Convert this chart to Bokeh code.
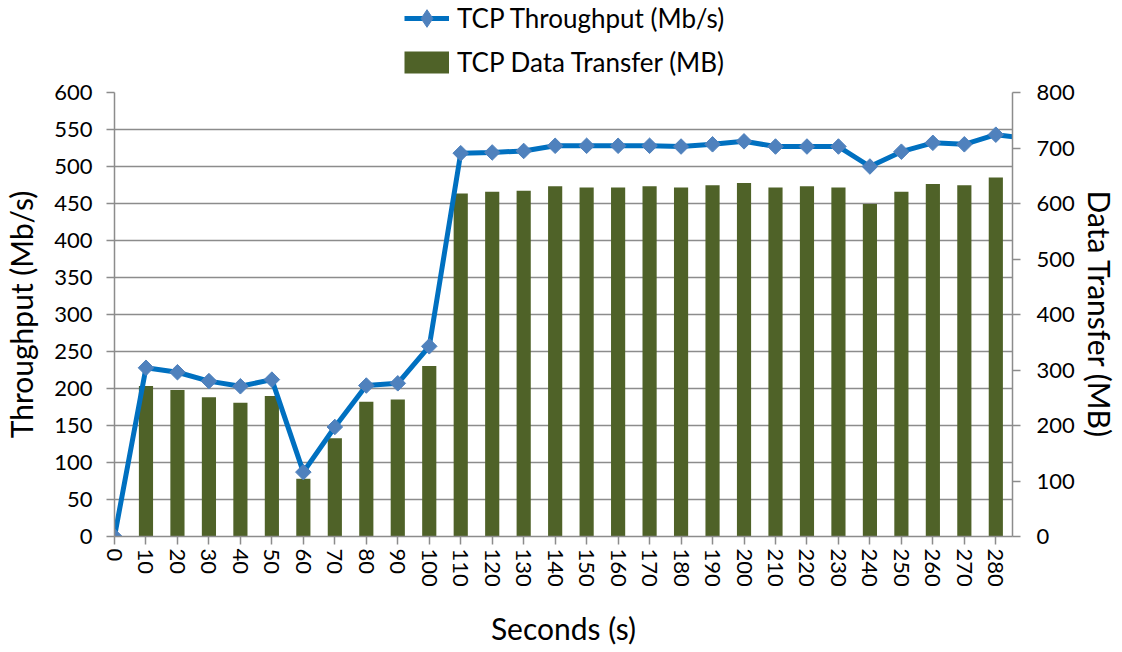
from bokeh.plotting import figure
from bokeh.layouts import column
from bokeh.models import (Range1d, LinearAxis, FixedTicker, Legend, LegendItem,
                          ColumnDataSource)
from bokeh.embed import file_html
from bokeh.resources import INLINE

# ---- data ----
seconds = [0, 10, 20, 30, 40, 50, 60, 70, 80, 90, 100, 110, 120, 130, 140, 150,
           160, 170, 180, 190, 200, 210, 220, 230, 240, 250, 260, 270, 280, 290]
throughput = [0, 228, 222, 210, 203, 212, 87, 148, 204, 207, 257, 518, 519, 521,
              528, 528, 528, 528, 527, 530, 534, 527, 527, 527, 500, 520, 532,
              530, 543, 538]
bar_seconds = [10, 20, 30, 40, 50, 60, 70, 80, 90, 100, 110, 120, 130, 140, 150,
               160, 170, 180, 190, 200, 210, 220, 230, 240, 250, 260, 270, 280]
data_transfer = [271, 264, 251, 241, 253, 104, 177, 243, 247, 307, 618, 621, 623,
                 631, 629, 629, 631, 629, 633, 637, 629, 631, 629, 599, 621, 635,
                 633, 647]
x_ticks = list(range(0, 290, 10))
left_ticks = list(range(0, 601, 50))
right_ticks = list(range(0, 801, 100))
series_names = ["TCP Throughput (Mb/s)", "TCP Data Transfer (MB)"]

FONT = "Lato"
GRID = "#8c8c8c"
LINE_BLUE = "#0070C0"
MARKER_BLUE = "#4F81BD"
BAR_GREEN = "#4F6228"

W = 1120
LEG_H = 78
MAIN_H = 572

# ---- legend strip (its frame is aligned with the main chart's frame) ----
lf = figure(width=W, height=LEG_H, output_backend="svg", toolbar_location=None,
            x_range=Range1d(0, 1), y_range=Range1d(0, 1),
            x_axis_type=None, y_axis_type=None,
            min_border_left=0, min_border_right=0, min_border_top=0,
            min_border_bottom=0)
lf.outline_line_color = None
lf.grid.visible = False
# legend-only renderers: their points lie outside the visible range
dummy = ColumnDataSource(dict(x=[-5, -4], y=[-5, -4]))
l_line = lf.line(x="x", y="y", source=dummy, line_color=LINE_BLUE, line_width=5)
l_mark = lf.scatter(x="x", y="y", source=dummy, marker="diamond",
                    fill_color=MARKER_BLUE, line_color=MARKER_BLUE)
l_bar = lf.line(x="x", y="y", source=dummy, line_color=BAR_GREEN, line_width=22,
                line_cap="butt")
legend = Legend(items=[LegendItem(label=series_names[0], renderers=[l_line, l_mark]),
                       LegendItem(label=series_names[1], renderers=[l_bar])],
                location=(290, -6), orientation="vertical",
                label_text_font=FONT, label_text_font_size="26px",
                label_text_color="black", label_text_line_height=1.0,
                glyph_width=45, glyph_height=44, label_height=24,
                spacing=0, padding=0, margin=0, border_line_color=None,
                background_fill_alpha=0, label_standoff=8)
lf.add_layout(legend, "center")

# ---- main chart ----
p = figure(width=W, height=MAIN_H, output_backend="svg", toolbar_location=None,
           x_range=Range1d(0, 285.3), y_range=Range1d(0, 600),
           min_border_left=114, min_border_right=104, min_border_top=14,
           min_border_bottom=114)
p.extra_y_ranges = {"right": Range1d(0, 800)}
p.outline_line_color = None
p.background_fill_color = "white"

bar_src = ColumnDataSource(dict(x=bar_seconds, top=data_transfer))
bars = p.vbar(x="x", top="top", width=4.5, source=bar_src, y_range_name="right",
              fill_color=BAR_GREEN, line_color=None)

line_src = ColumnDataSource(dict(x=seconds, y=throughput))
ln = p.line(x="x", y="y", source=line_src, line_color=LINE_BLUE, line_width=5)
mk = p.scatter(x="x", y="y", source=line_src, marker="square", angle=0.785398,
               size=11, fill_color=MARKER_BLUE, line_color=MARKER_BLUE)

p.xaxis.ticker = FixedTicker(ticks=x_ticks)
p.xaxis.major_label_orientation = "vertical"
p.xaxis.axis_label = "Seconds (s)"
p.yaxis.ticker = FixedTicker(ticks=left_ticks)
p.yaxis.axis_label = "Throughput (Mb/s)"

ry = LinearAxis(y_range_name="right", ticker=FixedTicker(ticks=right_ticks),
                axis_label="Data Transfer (MB)")
p.add_layout(ry, "right")

for ax in [p.xaxis[0], p.yaxis[0], ry]:
    ax.axis_line_color = GRID
    ax.axis_line_width = 1.5
    ax.major_tick_line_color = GRID
    ax.major_tick_line_width = 1.5
    ax.major_tick_out = 8
    ax.major_tick_in = 0
    ax.minor_tick_line_color = None
    ax.major_label_text_font = FONT
    ax.major_label_text_font_size = "22px"
    ax.major_label_text_color = "black"
    ax.axis_label_text_font = FONT
    ax.axis_label_text_font_size = "30px"
    ax.axis_label_text_font_style = "normal"
    ax.axis_label_text_color = "black"

p.xaxis.major_label_standoff = 4
p.xaxis.axis_label_standoff = 20
p.yaxis[0].major_label_standoff = 14
p.yaxis[0].axis_label_standoff = 12
ry.major_label_standoff = 16
ry.axis_label_standoff = 4

p.xgrid.grid_line_color = None
p.ygrid.ticker = FixedTicker(ticks=left_ticks)
p.ygrid.grid_line_color = GRID
p.ygrid.grid_line_width = 1.5

layout = column(lf, p, spacing=0)
open("out.html", "w").write(file_html(layout, INLINE))
